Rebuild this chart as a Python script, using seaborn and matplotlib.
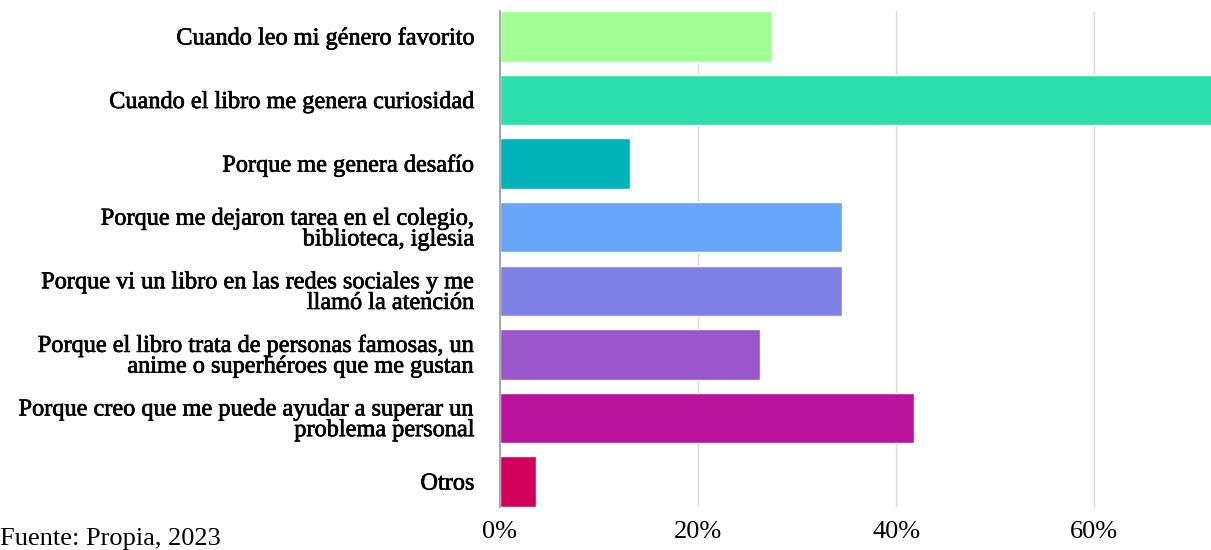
import pandas as pd
import seaborn as sns
import matplotlib.pyplot as plt
import matplotlib.patheffects as pe
from matplotlib.ticker import FuncFormatter

# datos
motivos = [
    "Cuando leo mi género favorito",
    "Cuando el libro me genera curiosidad",
    "Porque me genera desafío",
    "Porque me dejaron tarea en el colegio,\nbiblioteca, iglesia",
    "Porque vi un libro en las redes sociales y me\nllamó la atención",
    "Porque el libro trata de personas famosas, un\nanime o superhéroes que me gustan",
    "Porque creo que me puede ayudar a superar un\nproblema personal",
    "Otros",
]
porcentajes = [27.5, 72.7, 13.1, 34.5, 34.5, 26.3, 41.8, 3.6]
colores = ["#A1FF95", "#2DDFAD", "#00B3B8", "#66A6F8",
           "#7F81E6", "#9A57CB", "#B9139E", "#D1005A"]

df = pd.DataFrame({"motivo": motivos, "pct": porcentajes})

sns.set_style("white")
plt.rcParams['font.family'] = ['Liberation Serif', 'DejaVu Serif']

fig = plt.figure(figsize=(12.11, 5.5), dpi=100)
ax = fig.add_axes([500 / 1211, 1 - 507 / 550, 711 / 1211, 496 / 550])

sns.barplot(data=df, x="pct", y="motivo", hue="motivo", palette=colores,
            legend=False, width=0.79, ax=ax, saturation=1)

ax.set_xlim(0, 71.8)
ax.set_ylim(7.4, -0.4)
ax.set_xticks([0, 20, 40, 60])
ax.xaxis.set_major_formatter(FuncFormatter(lambda v, p: "{}%".format(int(v))))
ax.grid(axis='x', color='#DADADA', linewidth=1)
ax.set_axisbelow(True)
for s in ['top', 'right', 'bottom']:
    ax.spines[s].set_visible(False)
ax.spines['left'].set_color('#999999')
ax.spines['left'].set_linewidth(1.2)

ax.set_xlabel("")
ax.set_ylabel("")
ax.tick_params(axis='x', length=0, labelsize=19, pad=10, labelcolor='black')
ax.tick_params(axis='y', length=0, labelsize=17.5, pad=18.5, labelcolor='black')
for t in ax.get_yticklabels():
    t.set_linespacing(0.98)
    # las etiquetas del original se ven algo más gruesas
    t.set_path_effects([pe.withStroke(linewidth=0.5, foreground='black')])

fig.text(0.0, 0.0, "Fuente: Propia, 2023", fontsize=19, ha='left', va='bottom',
         color='black')

fig.savefig("out.png", dpi=100)
